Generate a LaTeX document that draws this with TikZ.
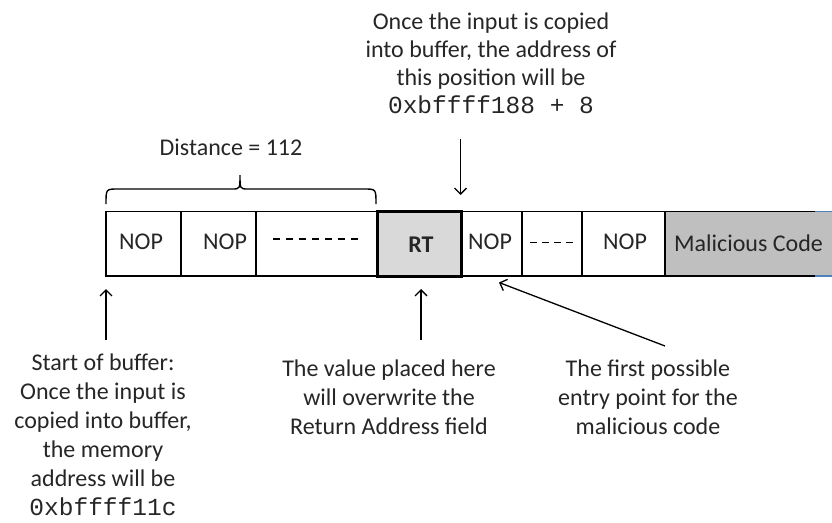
\documentclass[tikz,border=0pt]{standalone}
\usepackage{fontspec}
\setmainfont{Carlito}
\setmonofont{Liberation Mono}
\usetikzlibrary{arrows.meta,calc}
\definecolor{txt}{HTML}{262626}
\definecolor{rtfill}{HTML}{D9D9D9}
\definecolor{malfill}{HTML}{BFBFBF}
\definecolor{malblue}{HTML}{4F81BD}
\begin{document}
\begin{tikzpicture}[x=1pt,y=-1pt,
  cell/.style={draw=black, line width=1.4pt, minimum height=64.5pt, inner sep=0pt, outer sep=0pt,
    anchor=north west, font=\fontsize{24}{29}\selectfont, text=txt},
  note/.style={align=center, inner sep=0pt, anchor=base, text=txt},
  arr/.style={-{Straight Barb[length=6pt,width=12pt]}, line width=1.3pt, black}
  ]
\useasboundingbox (0,0) rectangle (832,522);
% cells
\node[cell, minimum width=75pt] (c1) at (106,211.5) {};
\node[font=\fontsize{24}{29}\selectfont, text=txt] at (141,242) {NOP};
\node[cell, minimum width=75pt] (c2) at (181,211.5) {};
\node[font=\fontsize{24}{29}\selectfont, text=txt] at (225,242) {NOP};
\node[cell, minimum width=121pt] (c3) at (256,211.5) {};
\draw[line width=1.3pt, dash pattern=on 7pt off 6pt] (273,239) -- (358,239);
% malicious
\fill[malfill] (665,211.5) rectangle (840,276);
\draw[line width=1.4pt, black] (665,211.5) -- (815,211.5) (665,276) -- (815,276);
\draw[line width=1.4pt, malblue] (815,211.5) -- (840,211.5) (815,276) -- (840,276);
\node[font=\fontsize{24}{29}\selectfont, text=txt] (mal) at (748.5,243) {Malicious Code};
% remaining cells
\node[cell, minimum width=61pt] (c5) at (461,211.5) {};
\node[font=\fontsize{24}{29}\selectfont, text=txt] at (490,242) {NOP};
\node[cell, minimum width=60pt] (c6) at (522,211.5) {};
\draw[line width=1.3pt, dash pattern=on 7pt off 5pt] (530,242.5) -- (576,242.5);
\node[cell, minimum width=83pt] (c7) at (582,211.5) {};
\node[font=\fontsize{24}{29}\selectfont, text=txt] at (625,242) {NOP};
\node[cell, minimum width=84pt, fill=rtfill, line width=3pt, font=\fontsize{24}{29}\selectfont\bfseries] (rt) at (377,211.5) {};
\node[font=\fontsize{24}{29}\selectfont\bfseries, text=txt] at (421,245) {RT};
% brace
\draw[line width=1.4pt] (106,204) .. controls (106,189) .. (118,189) -- (232,189)
  .. controls (240,189) .. (240,175) .. controls (240,189) .. (248,189) -- (364,189)
  .. controls (376,189) .. (376,204);
\node[note, font=\fontsize{24}{29}\selectfont] (dist) at (231,155) {Distance = 112};
% top note
\node[note, font=\fontsize{24}{28}\selectfont] (topnote) at (491,113)
  {Once the input is copied\\ into buffer, the address of\\ this position will be\\
   {\fontsize{24.5}{27}\ttfamily 0xbffff188 + 8}};
\coordinate (ta) at (460.5,139);
\coordinate (tb) at (460.5,195);
\draw[arr] (ta) -- (tb);
% bottom notes
\node[note, font=\fontsize{24}{29}\selectfont] (lnote) at (103,515)
  {Start of buffer:\\ Once the input is\\ copied into buffer,\\ the memory\\ address will be\\
   {\fontsize{24.5}{29}\ttfamily 0xbffff11c}};
\node[note, font=\fontsize{24}{29}\selectfont] (mnote) at (389,434)
  {The value placed here\\ will overwrite the\\ Return Address field};
\node[note, font=\fontsize{24}{29}\selectfont] (rnote) at (648,434)
  {The first possible\\ entry point for the\\ malicious code};
% arrows
\coordinate (la) at (106,340);
\coordinate (lb) at (106,289);
\draw[arr] (la) -- (lb);
\coordinate (ma) at (421,340);
\coordinate (mb) at (421,289);
\draw[arr] (ma) -- (mb);
\coordinate (ra) at (665,346);
\coordinate (rb) at (499,282.5);
\draw[arr] (ra) -- (rb);
\end{tikzpicture}
\end{document}
